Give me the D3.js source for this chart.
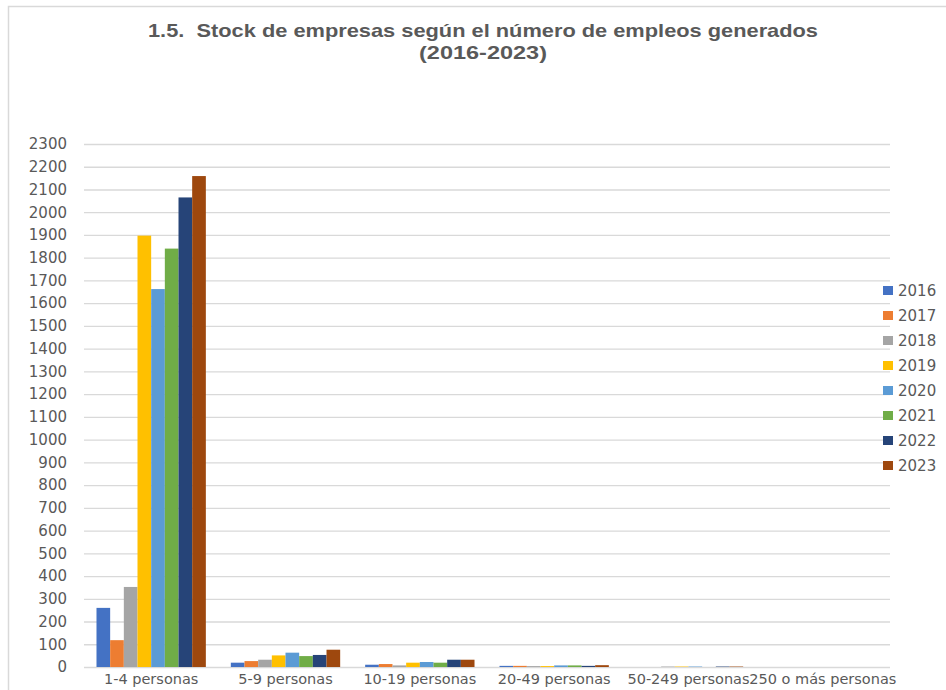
<!DOCTYPE html>
<html><head><meta charset="utf-8">
<script src="https://cdn.jsdelivr.net/npm/d3@7"></script>
<style>body{margin:0;background:#fff}svg{display:block}text{white-space:pre}</style>
</head><body>
<svg id="c" width="946" height="690"></svg>
<script>
const categories = ["1-4 personas","5-9 personas","10-19 personas","20-49 personas","50-249 personas","250 o más personas"];
const years = ["2016","2017","2018","2019","2020","2021","2022","2023"];
const colors = ["#4472C4","#ED7D31","#A5A5A5","#FFC000","#5B9BD5","#70AD47","#264478","#9E480E"];
const v2016 = [260, 19, 10, 5, 0, 0];
const v2017 = [118, 26, 13, 5, 0, 0];
const v2018 = [352, 32, 7, 4, 2, 0];
const v2019 = [1897, 51, 19, 4, 2, 0];
const v2020 = [1662, 63, 22, 7, 2, 0];
const v2021 = [1840, 48, 19, 7, 0, 0];
const v2022 = [2065, 53, 32, 5, 2, 0];
const v2023 = [2159, 76, 32, 8, 2, 0];
const series = [v2016,v2017,v2018,v2019,v2020,v2021,v2022,v2023];
const yTicks = d3.range(0, 2301, 100);

const svg = d3.select("#c");
const font = "DejaVu Sans";
const grey = "#595959";

// outer border
svg.append("path").attr("d","M8.5,690 V6.5 H946").attr("fill","none").attr("stroke","#d9d9d9").attr("stroke-width",1.5);

// title
svg.append("text").attr("x",483).attr("y",37).attr("text-anchor","middle")
  .attr("font-family","Liberation Sans Narrow, Liberation Sans").attr("font-weight","bold").attr("font-size",19)
  .attr("fill",grey).attr("textLength",670).attr("lengthAdjust","spacingAndGlyphs")
  .text("1.5.  Stock de empresas según el número de empleos generados");
svg.append("text").attr("x",483).attr("y",59).attr("text-anchor","middle")
  .attr("font-family","Liberation Sans Narrow, Liberation Sans").attr("font-weight","bold").attr("font-size",19)
  .attr("fill",grey).attr("textLength",128).attr("lengthAdjust","spacingAndGlyphs")
  .text("(2016-2023)");

const x0 = d3.scaleBand().domain(categories).range([84, 890]).padding(0);
const bw = x0.bandwidth();
const x1 = d3.scaleBand().domain(years).range([bw*0.093, bw*0.907]).padding(0);
const y = d3.scaleLinear().domain([0, 2300]).range([667, 144]);

// grid
const yAxis = d3.axisLeft(y).tickValues(yTicks).tickSize(-(890-84)).tickPadding(17).tickFormat(d3.format("d"));
const ga = svg.append("g").attr("transform","translate(84,0)").call(yAxis);
ga.select(".domain").remove();
ga.selectAll(".tick line").attr("stroke","#d9d9d9").attr("stroke-width",1.3);
ga.selectAll(".tick text").attr("font-family",font).attr("font-size",15).attr("fill",grey);

// bars
const groups = svg.append("g").selectAll("g").data(categories).join("g")
  .attr("transform", d => `translate(${x0(d)},0)`);
groups.selectAll("rect").data((c, ci) => years.map((yr, yi) => ({yr, yi, v: series[yi][ci]})))
  .join("rect")
  .attr("x", d => x1(d.yr)).attr("width", x1.bandwidth())
  .attr("y", d => y(d.v)).attr("height", d => y(0) - y(d.v))
  .attr("fill", d => colors[d.yi]);

// x axis labels
const xAxis = d3.axisBottom(x0).tickSize(0).tickPadding(7);
const gx = svg.append("g").attr("transform","translate(0,667)").call(xAxis);
gx.select(".domain").remove();
gx.selectAll(".tick text").attr("font-family",font).attr("font-size",14.5).attr("fill",grey);

// legend
const lg = svg.append("g").selectAll("g").data(years).join("g")
  .attr("transform", (d,i) => `translate(883,${291 + i*25})`);
lg.append("rect").attr("x",0).attr("y",-5).attr("width",10).attr("height",9).attr("fill",(d,i)=>colors[i]);
lg.append("text").attr("x",15).attr("y",0).attr("dy","0.35em")
  .attr("font-family",font).attr("font-size",15).attr("fill",grey).text(d=>d);
</script>
</body></html>
